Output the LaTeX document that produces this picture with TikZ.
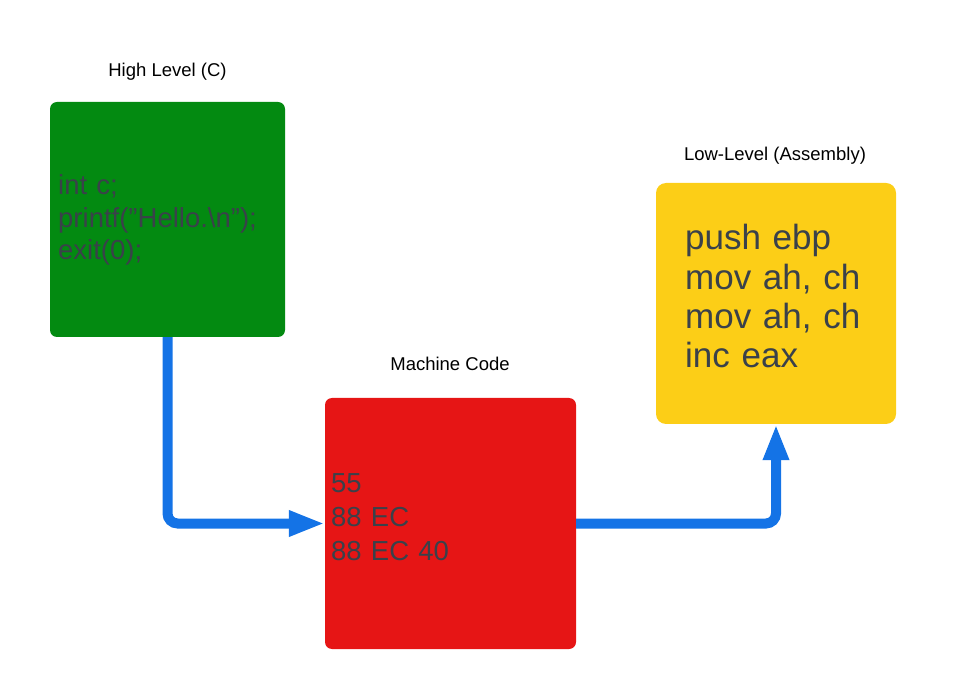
\documentclass[tikz,border=0pt]{standalone}
\usepackage{fontspec}
\setmainfont{Liberation Sans}
\usetikzlibrary{arrows.meta}
\definecolor{hlgreen}{RGB}{3,138,17}
\definecolor{mcred}{RGB}{230,21,21}
\definecolor{asmyellow}{RGB}{252,206,23}
\definecolor{flowblue}{RGB}{20,115,230}
\definecolor{codegrey}{RGB}{58,65,74}

\begin{document}
\begin{tikzpicture}[x=1pt,y=-1pt,
	codebox/.style={rectangle, inner sep=0pt, rounded corners=7pt},
	codetext/.style={anchor=base west, inner sep=0pt, align=left, text=codegrey},
	title/.style={anchor=base, inner sep=0pt, font=\fontsize{18.5}{22}\selectfont},
	flow/.style={draw=flowblue, line width=10pt, rounded corners=10pt, -{Triangle[length=36pt,width=24pt]}}]
		\useasboundingbox (0,0) rectangle (975,692);

		\node[title] (t1) at (167.5,77) {High Level (C)};
		\node[codebox, fill=hlgreen, minimum width=235pt, minimum height=235pt] (cbox) at (167.5,219.5) {};
		\node[codetext, text width=220pt, font=\fontsize{27.5}{32.5}\selectfont] (ctext) at (58,195) {int c;\\printf("Hello.\textbackslash n");\\exit(0);};

		\node[title] (t2) at (450,371) {Machine Code};
		\node[codebox, fill=mcred, minimum width=251pt, minimum height=251pt] (mbox) at (450.5,523.5) {};
		\node[codetext, text width=230pt, font=\fontsize{27.5}{34}\selectfont] (mtext) at (331,493) {55\\88 EC\\88 EC 40};

		\node[title] (t3) at (775,161) {Low-Level (Assembly)};
		\node[codebox, fill=asmyellow, rounded corners=10pt, minimum width=240pt, minimum height=241pt] (abox) at (776,303.5) {};
		\node[codetext, text width=200pt, font=\fontsize{35}{39.3}\selectfont] (atext) at (685,250) {push ebp\\mov ah, ch\\mov ah, ch\\inc eax};

		\draw[flow] (cbox.south) |- (mbox.west);
		\draw[flow] (mbox.east) -| (abox.south);
\end{tikzpicture}
\end{document}
